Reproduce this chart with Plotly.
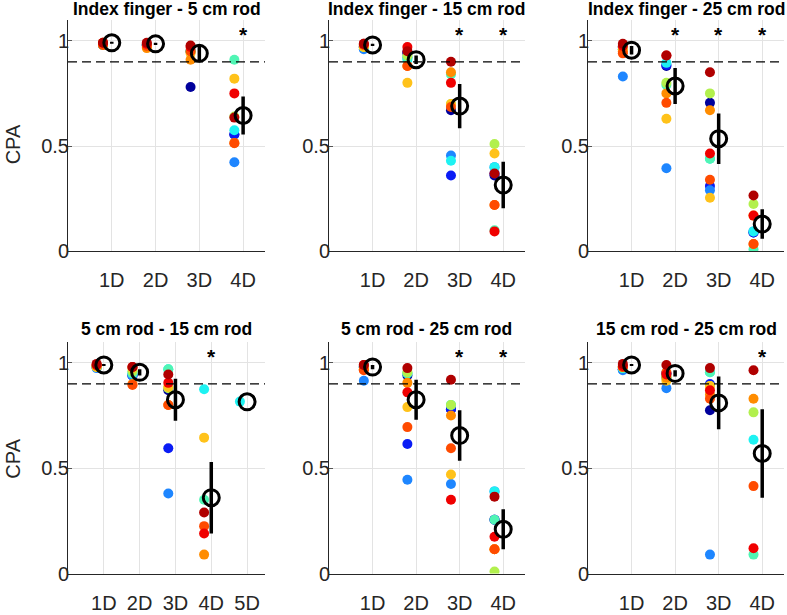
import plotly.graph_objects as go
from plotly.subplots import make_subplots

# one colour per subject (jet-like order, blue -> dark red)
subject_colors = ["#00009c", "#0a1cf5", "#1e86ff", "#1ef2f2", "#50f5b4", "#b2f04d",
                  "#ffc21a", "#ff8c00", "#ff4b00", "#f00000", "#b00000"]

titles = ["Index finger - 5 cm rod", "Index finger - 15 cm rod", "Index finger - 25 cm rod",
          "5 cm rod - 15 cm rod", "5 cm rod - 25 cm rod", "15 cm rod - 25 cm rod"]

labels_4 = ["1D", "2D", "3D", "4D"]
labels_5 = ["1D", "2D", "3D", "4D", "5D"]

# per digit, one value per subject (None = no data)
idx_5cm = [
    [0.98, 0.98, 0.98, 0.98, 0.98, 0.99, 0.98, 0.985, 0.98, 0.99, 0.99],
    [0.98, 0.98, 0.98, 0.98, 0.98, 0.98, 0.97, 0.965, 0.975, 0.985, 0.99],
    [0.78, 0.95, 0.95, 0.95, 0.95, 0.95, 0.94, 0.91, 0.95, 0.97, 0.977],
    [0.555, 0.555, 0.423, 0.575, 0.91, 0.64, 0.82, 0.515, 0.513, 0.75, 0.635],
]
idx_15cm = [
    [0.97, 0.97, 0.96, 0.97, 0.97, 0.97, 0.97, 0.98, 0.98, 0.985, 0.985],
    [0.94, 0.945, 0.92, 0.91, 0.92, 0.93, 0.80, 0.88, 0.88, 0.97, 0.95],
    [0.67, 0.36, 0.455, 0.43, 0.84, 0.70, 0.70, 0.85, 0.685, 0.80, 0.90],
    [0.36, 0.37, 0.40, 0.40, 0.10, 0.51, 0.465, 0.22, 0.22, 0.095, 0.37],
]
idx_25cm = [
    [0.97, 0.97, 0.83, 0.96, 0.96, 0.97, 0.96, 0.95, 0.94, 0.975, 0.985],
    [0.88, 0.885, 0.395, 0.895, 0.79, 0.80, 0.63, 0.75, 0.705, 0.93, 0.93],
    [0.705, 0.31, 0.29, 0.44, 0.44, 0.75, 0.255, 0.67, 0.34, 0.465, 0.85],
    [0.09, 0.09, 0.095, 0.095, 0.01, 0.225, 0.17, 0.035, 0.035, 0.17, 0.265],
]
rod_5_15 = [
    [0.98, 0.98, 0.975, 0.98, 0.98, 0.98, 0.98, 0.985, 0.99, 0.99, 0.995],
    [0.94, 0.94, 0.94, 0.95, 0.95, 0.96, 0.975, 0.90, 0.895, 0.98, 0.98],
    [0.87, 0.595, 0.38, 0.97, 0.97, 0.88, 0.885, 0.80, 0.80, 0.905, 0.945],
    [None, None, None, 0.875, 0.35, None, 0.645, 0.09, 0.225, 0.19, 0.29],
    [None, None, None, 0.816, None, None, None, None, None, None, None],
]
rod_5_25 = [
    [0.98, 0.98, 0.915, 0.98, 0.98, 0.98, 0.97, 0.97, 0.965, 0.99, 0.99],
    [0.94, 0.615, 0.445, 0.95, 0.95, 0.955, 0.79, 0.905, 0.695, 0.86, 0.975],
    [0.78, 0.78, 0.425, 0.80, 0.80, 0.80, 0.47, 0.75, 0.595, 0.35, 0.92],
    [0.255, 0.255, 0.39, 0.39, 0.255, 0.01, 0.115, 0.115, 0.115, 0.175, 0.365],
]
rod_15_25 = [
    [0.97, 0.97, 0.965, 0.975, 0.975, 0.98, 0.98, 0.98, 0.98, 0.985, 0.995],
    [0.95, 0.95, 0.88, 0.93, 0.93, 0.94, 0.915, 0.93, 0.955, 0.945, 0.99],
    [0.775, 0.90, 0.09, 0.955, 0.955, 0.89, 0.89, 0.85, 0.83, 0.87, 0.975],
    [None, None, None, 0.635, 0.09, 0.765, None, 0.83, 0.415, 0.12, 0.965],
]

# group means and error bar half-lengths
means = [
    [0.99, 0.985, 0.94, 0.645],
    [0.98, 0.91, 0.69, 0.315],
    [0.955, 0.785, 0.535, 0.13],
    [0.99, 0.955, 0.825, 0.36, 0.815],
    [0.98, 0.825, 0.655, 0.21],
    [0.99, 0.95, 0.81, 0.57],
]
errors = [
    [0.005, 0.005, 0.035, 0.09],
    [0.005, 0.02, 0.105, 0.11],
    [0.02, 0.085, 0.12, 0.07],
    [0.005, 0.015, 0.10, 0.17, 0.0],
    [0.01, 0.095, 0.12, 0.095],
    [0.005, 0.015, 0.125, 0.21],
]
# digits marked as significant
stars = [[4], [3, 4], [2, 3, 4], [4], [3, 4], [4]]

threshold = 0.9

panels = [idx_5cm, idx_15cm, idx_25cm, rod_5_15, rod_5_25, rod_15_25]
tick_labels = [labels_4, labels_4, labels_4, labels_5, labels_4, labels_4]

W, H = 787, 615
col_px = [(68, 265), (329, 525), (588, 784)]
row_px = [(20, 256), (348, 584)]
title_gap = [11, 13]
cpa_y = [147, 467]

fig = make_subplots(rows=2, cols=3)
font = "Liberation Sans, Arial, Helvetica, sans-serif"
text_color = "#262626"

for p, data in enumerate(panels):
    r, c = p // 3 + 1, p % 3 + 1
    n = len(data)
    digits = list(range(1, n + 1))

    for s, color in enumerate(subject_colors):
        ys = [data[d][s] for d in range(n)]
        fig.add_trace(go.Scatter(
            x=[d - 0.2 for d in digits], y=ys, mode="markers",
            marker=dict(size=10, color=color, line=dict(width=0)),
            hoverinfo="skip"), row=r, col=c)

    fig.add_trace(go.Scatter(
        x=digits, y=means[p], mode="markers",
        marker=dict(symbol="circle-open", size=16, color="black", line=dict(width=3)),
        error_y=dict(type="data", array=errors[p], visible=True,
                     color="black", thickness=3.5, width=0)),
        row=r, col=c)

    axis_n = "" if p == 0 else str(p + 1)
    fig.add_shape(type="line", xref=f"x{axis_n} domain", yref=f"y{axis_n}",
                  x0=0, x1=1, y0=threshold, y1=threshold,
                  line=dict(color="black", width=1.2, dash="9px,5px"))

    # star box clipped to the glyph so it does not run into the title
    for d in stars[p]:
        fig.add_annotation(x=d, y=1.1, xref=f"x{axis_n}", yref=f"y{axis_n}",
                           text="<b>*</b>", showarrow=False, yshift=-1,
                           height=13, valign="top", yanchor="top",
                           font=dict(size=21, color="black", family=font))

    x0, x1 = col_px[c - 1]
    y0, y1 = row_px[r - 1]
    fig.update_xaxes(domain=[x0 / W, x1 / W], range=[0, n + 0.5],
                     tickvals=digits, ticktext=tick_labels[p],
                     showgrid=True, gridcolor="#e3e3e3", gridwidth=1,
                     showline=True, linecolor=text_color, linewidth=1,
                     zeroline=False, ticks="", ticklabelstandoff=11,
                     tickfont=dict(size=20, color=text_color, family=font),
                     row=r, col=c)
    fig.update_yaxes(domain=[1 - y1 / H, 1 - y0 / H], range=[0, 1.1],
                     tickvals=[0, 0.5, 1], ticktext=["0", "0.5", "1"],
                     showgrid=True, gridcolor="#e3e3e3", gridwidth=1,
                     showline=True, linecolor=text_color, linewidth=1,
                     zeroline=False, ticks="inside", ticklen=4, tickcolor="#555555",
                     ticklabelstandoff=-6,
                     tickfont=dict(size=20, color=text_color, family=font),
                     row=r, col=c)

    fig.add_annotation(x=(x0 + x1) / 2 / W, y=1 - (y0 - title_gap[r - 1]) / H,
                       xref="paper", yref="paper",
                       text=f"<b>{titles[p]}</b>", showarrow=False,
                       font=dict(size=17.5, color="black", family=font),
                       xanchor="center", yanchor="middle")

for yc in cpa_y:
    fig.add_annotation(x=0, y=1 - yc / H, xref="paper", yref="paper",
                       text="CPA", textangle=-90, showarrow=False,
                       font=dict(size=20, color=text_color, family=font),
                       xanchor="left", yanchor="middle")

fig.update_layout(width=W, height=H, margin=dict(l=0, r=0, t=0, b=0),
                  plot_bgcolor="white", paper_bgcolor="white", showlegend=False)

# the page body has a default 8px margin; drop it so the figure fills the window
fig.write_html("out.html", config={"displayModeBar": False},
               post_script="document.body.style.margin='0px';")
